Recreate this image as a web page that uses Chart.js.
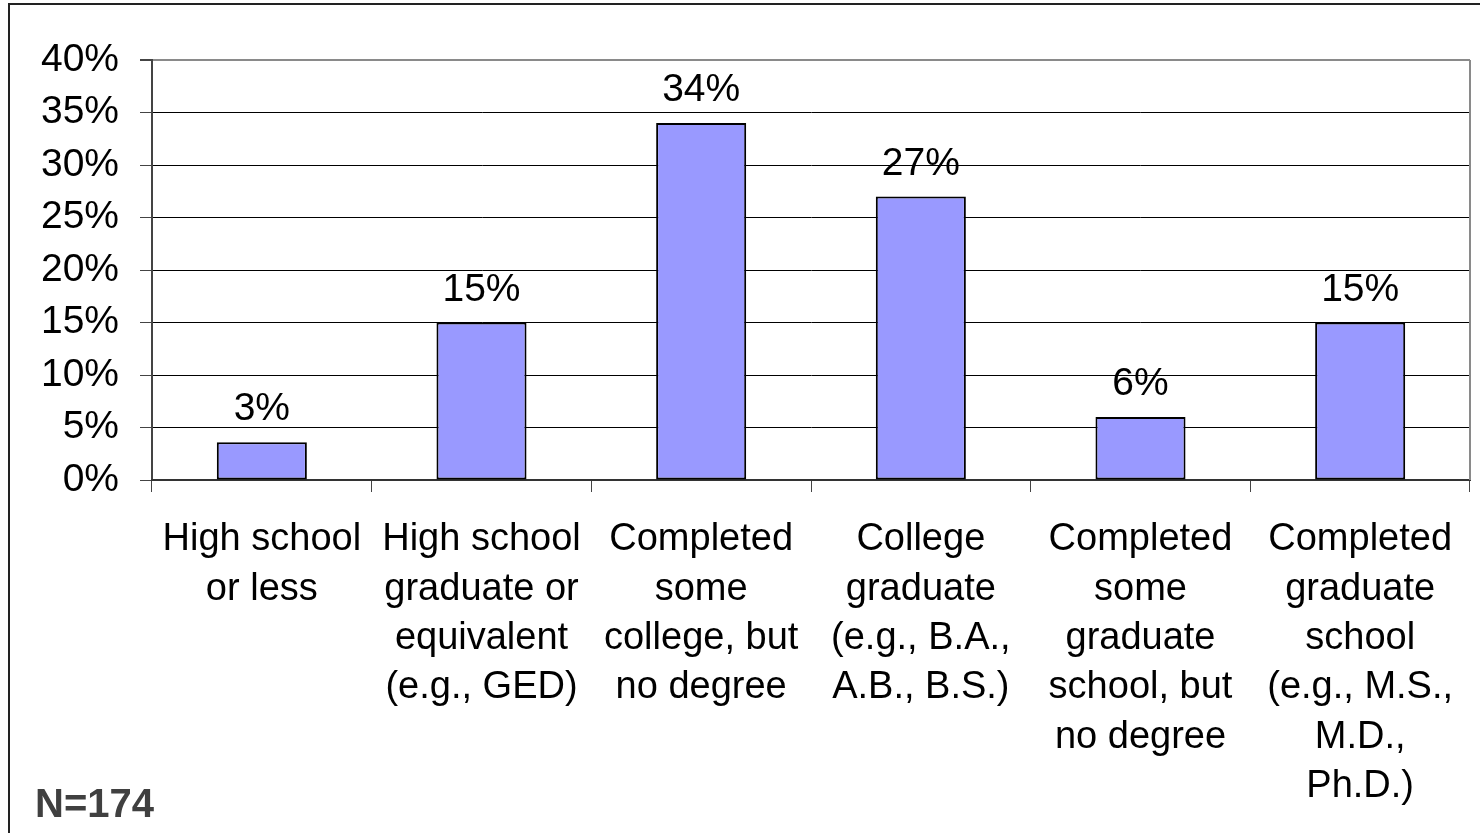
<!DOCTYPE html>
<html><head><meta charset="utf-8">
<script src="https://cdn.jsdelivr.net/npm/chart.js@4/dist/chart.umd.min.js"></script>
<style>
html,body{margin:0;padding:0;background:#fff;overflow:hidden;}
#wrap{position:relative;width:1480px;height:833px;}
#frame{position:absolute;left:8px;top:3px;width:1500px;height:900px;border:2px solid #222;box-sizing:border-box;}
#n{position:absolute;left:35px;top:780px;font:bold 40px "Liberation Sans",Arial,sans-serif;color:#404040;line-height:46px;}
canvas{position:absolute;left:0;top:0;}
</style></head>
<body><div id="wrap"><div id="frame"></div><canvas id="c" width="1480" height="833"></canvas><div id="n">N=174</div></div>
<script>
const categories = [
  ["High school","or less"],
  ["High school","graduate or","equivalent","(e.g., GED)"],
  ["Completed","some","college, but","no degree"],
  ["College","graduate","(e.g., B.A.,","A.B., B.S.)"],
  ["Completed","some","graduate","school, but","no degree"],
  ["Completed","graduate","school","(e.g., M.S.,","M.D.,","Ph.D.)"]
];
const values = [3.6, 15, 34, 27, 6, 15];
const valueLabels = ["3%","15%","34%","27%","6%","15%"];
const yTicks = [0,5,10,15,20,25,30,35,40];

const FONT = '"Liberation Sans", Arial, sans-serif';

const labelPlugin = {
  id:'barLabels',
  afterDatasetsDraw(chart){
    const ctx = chart.ctx;
    const meta = chart.getDatasetMeta(0);
    ctx.save();
    ctx.font = '39px ' + FONT;
    ctx.fillStyle = '#000';
    ctx.textAlign = 'center';
    ctx.textBaseline = 'alphabetic';
    meta.data.forEach((bar,i)=>{
      ctx.fillText(valueLabels[i], bar.x, bar.y - 22);
    });
    ctx.restore();
  },
  afterDraw(chart){
    const a = chart.chartArea, ctx = chart.ctx;
    ctx.save();
    ctx.strokeStyle = '#8a8a8a';
    ctx.lineWidth = 2;
    ctx.beginPath();
    ctx.moveTo(a.right, a.top);
    ctx.lineTo(a.right, a.bottom);
    ctx.stroke();
    ctx.restore();
  }
};

new Chart(document.getElementById('c'), {
  type:'bar',
  data:{
    labels: categories,
    datasets:[{
      data: values,
      backgroundColor:'#9999FF',
      borderColor:'#000',
      borderWidth:2,
      borderSkipped:false,
      barPercentage:0.41,
      categoryPercentage:1
    }]
  },
  options:{
    responsive:false,
    animation:false,
    devicePixelRatio:1,
    layout:{padding:{left:0,top:60,right:10,bottom:0}},
    plugins:{legend:{display:false},tooltip:{enabled:false}},
    scales:{
      y:{
        min:0,max:40,
        afterBuildTicks(s){ s.ticks = yTicks.map(v=>({value:v})); },
        afterFit(s){ s.width = 152; },
        ticks:{
          callback:v=>v+'%',
          color:'#000',
          font:{family:FONT,size:39},
          padding:21
        },
        grid:{
          color:c=> (c.tick && c.tick.value===40) ? '#8a8a8a' : '#000',
          lineWidth:c=> (c.tick && c.tick.value===40) ? 2 : 1,
          tickLength:12,
          tickColor:'#444'
        },
        border:{color:'#444',width:2}
      },
      x:{
        afterFit(s){ s.height = 353; },
        ticks:{
          color:'#000',
          font:{family:FONT,size:38,lineHeight:1.3},
          autoSkip:false,
          maxRotation:0,minRotation:0,
          padding:23
        },
        grid:{
          offset:true,
          drawOnChartArea:false,
          tickLength:12,
          color:'#444',
          lineWidth:1
        },
        border:{color:'#333',width:2}
      }
    }
  },
  plugins:[labelPlugin]
});
</script>
</body></html>
